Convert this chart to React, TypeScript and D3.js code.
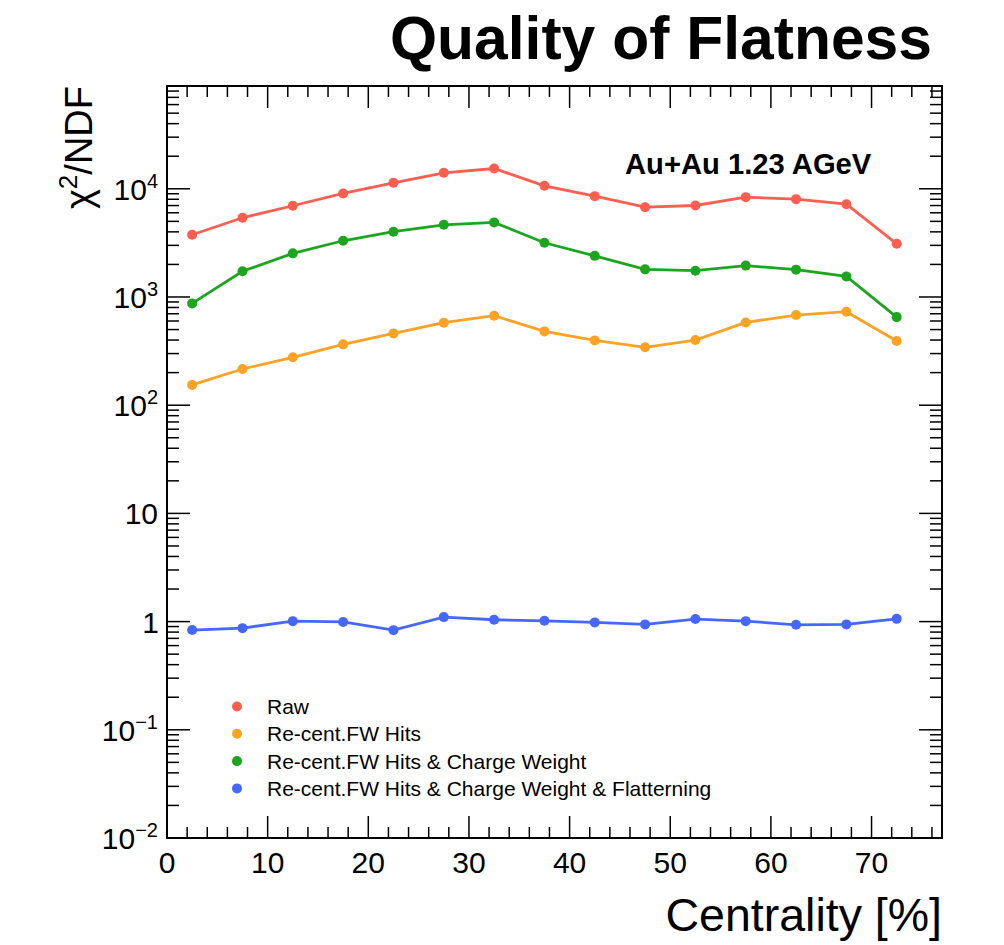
import React, { useEffect, useRef } from "react";
import * as d3 from "d3";

// Centrality bin centres (%)
const centrality = [2.5, 7.5, 12.5, 17.5, 22.5, 27.5, 32.5, 37.5, 42.5, 47.5, 52.5, 57.5, 62.5, 67.5, 72.5];

// chi^2/NDF per correction step
const raw = [3760, 5400, 6970, 9050, 11360, 14060, 15400, 10660, 8550, 6760, 7010, 8370, 8020, 7210, 3100];
const recentHits = [154, 216, 277, 365, 461, 579, 672, 481, 397, 343, 400, 582, 681, 731, 392];
const recentCharge = [873, 1730, 2530, 3310, 4010, 4650, 4890, 3170, 2400, 1800, 1750, 1950, 1790, 1550, 652];
const recentFlat = [0.835, 0.87, 1.01, 0.993, 0.834, 1.1, 1.04, 1.017, 0.983, 0.942, 1.055, 1.01, 0.934, 0.942, 1.06];

const seriesNames = [
  "Raw",
  "Re-cent.FW Hits",
  "Re-cent.FW Hits & Charge Weight",
  "Re-cent.FW Hits & Charge Weight & Flatterning",
];
const seriesColors = ["#fd5e4f", "#fda224", "#1ca620", "#4667fb"];

const xTicks = [0, 10, 20, 30, 40, 50, 60, 70];
const yTickExps = [-2, -1, 0, 1, 2, 3, 4];

const FONT = "'Liberation Sans', Arial, Helvetica, sans-serif";

export default function App() {
  const ref = useRef<SVGSVGElement>(null);

  useEffect(() => {
    const svg = d3.select(ref.current);
    svg.selectAll("*").remove();

    const L = 167, R = 942, T = 86, B = 838;
    const x = d3.scaleLinear().domain([0, 77]).range([L, R]);
    const y = d3.scaleLog().domain([0.01, Math.pow(10, 4.95)]).range([B, T]);

    // ticks on all four sides
    const tickG = svg.append("g").attr("stroke", "#000").attr("stroke-width", 1.5);
    for (let v = 0; v <= 76; v += 2) {
      const major = v % 10 === 0;
      const len = major ? 22 : 11;
      const px = x(v);
      tickG.append("line").attr("x1", px).attr("x2", px).attr("y1", B).attr("y2", B - len);
      tickG.append("line").attr("x1", px).attr("x2", px).attr("y1", T).attr("y2", T + len);
    }
    for (let e = -2; e <= 4; e++) {
      for (let m = 1; m <= 9; m++) {
        const v = m * Math.pow(10, e);
        if (v > y.domain()[1]) continue;
        const py = y(v);
        const len = m === 1 ? 23 : 12;
        tickG.append("line").attr("x1", L).attr("x2", L + len).attr("y1", py).attr("y2", py);
        tickG.append("line").attr("x1", R).attr("x2", R - len).attr("y1", py).attr("y2", py);
      }
    }

    // frame
    svg.append("rect")
      .attr("x", L).attr("y", T).attr("width", R - L).attr("height", B - T)
      .attr("fill", "none").attr("stroke", "#000").attr("stroke-width", 2);

    // x tick labels
    svg.append("g").selectAll("text").data(xTicks).join("text")
      .attr("x", (d) => x(d)).attr("y", 873)
      .attr("text-anchor", "middle")
      .attr("font-family", FONT).attr("font-size", 30)
      .text((d) => String(d));

    // y tick labels
    const yl = svg.append("g");
    yTickExps.forEach((e) => {
      const py = y(Math.pow(10, e)) + 11;
      if (e === 0 || e === 1) {
        yl.append("text").attr("x", e === 0 ? 159 : 158).attr("y", py).attr("text-anchor", "end")
          .attr("font-family", FONT).attr("font-size", 30)
          .text(e === 0 ? "1" : "10");
      } else {
        const t = yl.append("text").attr("x", 158).attr("y", py).attr("text-anchor", "end")
          .attr("font-family", FONT).attr("font-size", 30);
        t.append("tspan").text("10");
        t.append("tspan").attr("font-size", 20).attr("dy", -12)
          .text(e < 0 ? "\u2212" + String(-e) : String(e));
      }
    });

    // series lines and markers
    const all = [raw, recentHits, recentCharge, recentFlat];
    const line = d3.line<number>().x((_, i) => x(centrality[i])).y((d) => y(d));
    all.forEach((vals, k) => {
      svg.append("path").datum(vals).attr("d", line)
        .attr("fill", "none").attr("stroke", seriesColors[k]).attr("stroke-width", 2.8);
      svg.append("g").selectAll("circle").data(vals).join("circle")
        .attr("cx", (_, i) => x(centrality[i])).attr("cy", (d) => y(d))
        .attr("r", 5).attr("fill", seriesColors[k]);
    });

    // legend
    const lg = svg.append("g");
    seriesNames.forEach((name, k) => {
      const py = 706.5 + k * 27.3;
      lg.append("circle").attr("cx", 237).attr("cy", py).attr("r", 5).attr("fill", seriesColors[k]);
      lg.append("text").attr("x", 267).attr("y", py + 7.5)
        .attr("font-family", FONT).attr("font-size", 21).text(name);
    });

    // annotation
    svg.append("text").attr("x", 625).attr("y", 174)
      .attr("font-family", FONT).attr("font-size", 29.2).attr("font-weight", "bold")
      .text("Au+Au 1.23 AGeV");

    // title
    svg.append("text").attr("x", 932).attr("y", 59).attr("text-anchor", "end")
      .attr("font-family", FONT).attr("font-size", 60.6).attr("font-weight", "bold")
      .text("Quality of Flatness");

    // axis titles
    svg.append("text").attr("x", 942).attr("y", 931).attr("text-anchor", "end")
      .attr("font-family", FONT).attr("font-size", 46.5)
      .text("Centrality [%]");

    const yt = svg.append("text")
      .attr("transform", "translate(92,86) rotate(-90)")
      .attr("text-anchor", "end")
      .attr("font-family", FONT).attr("font-size", 38);
    yt.append("tspan").text("\u03C7");
    yt.append("tspan").attr("font-size", 26).attr("dy", -15).text("2");
    yt.append("tspan").attr("dy", 15).text("/NDF");
  }, []);

  return (
    <svg
      ref={ref}
      width={1004}
      height={945}
      style={{ position: "absolute", left: 0, top: 0, background: "#fff" }}
    />
  );
}
